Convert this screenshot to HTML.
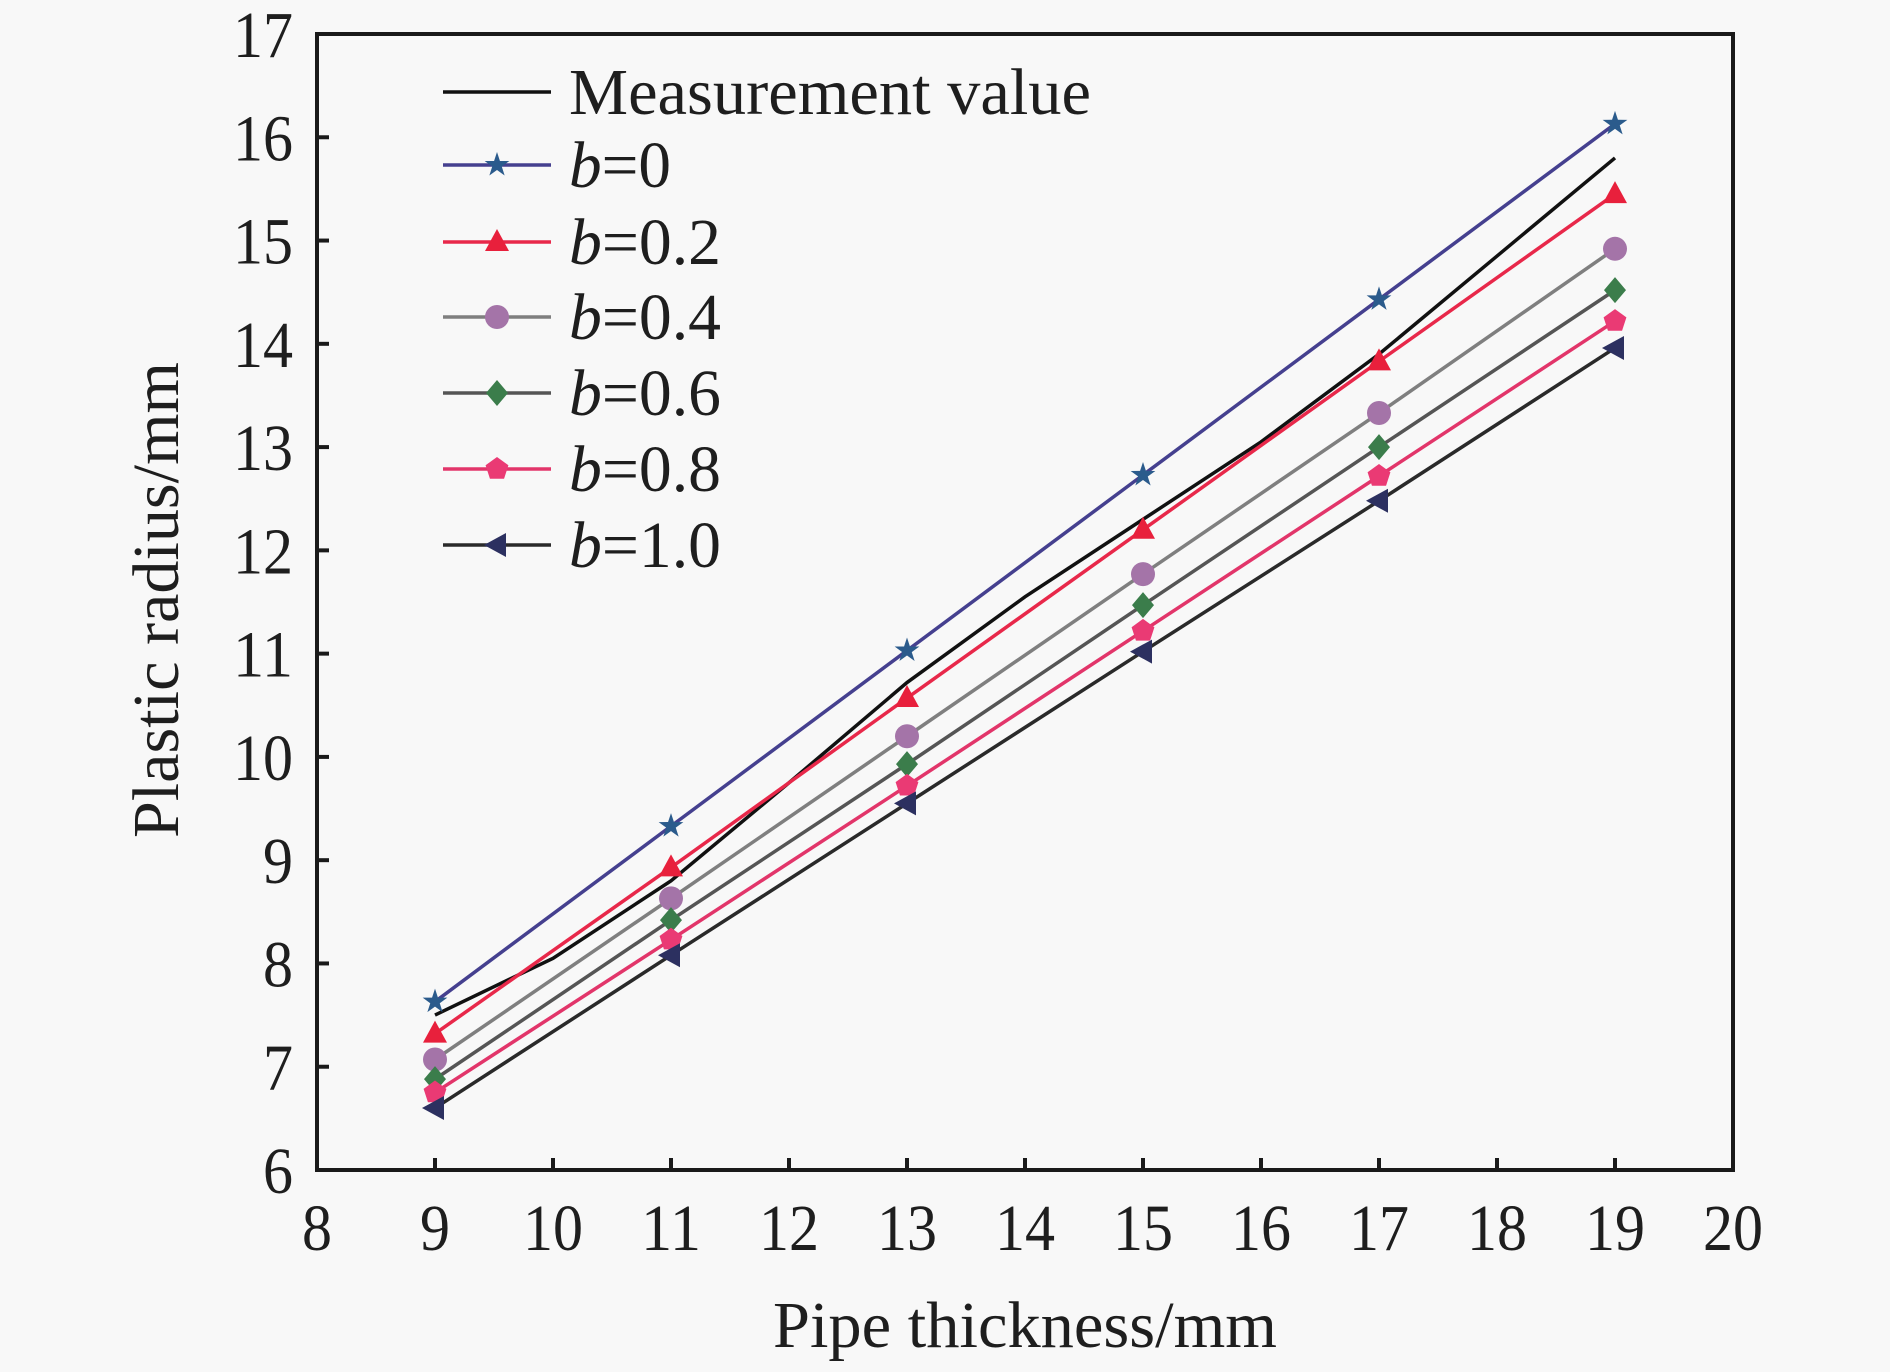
<!DOCTYPE html>
<html><head><meta charset="utf-8"><style>
html,body{margin:0;padding:0;background:#f8f8f8;}
</style></head><body>
<svg id="chart" width="1890" height="1367" viewBox="0 0 1890 1367" xmlns="http://www.w3.org/2000/svg" font-family="Liberation Serif, Times New Roman, serif">
<rect x="0" y="0" width="1890" height="1367" fill="#f8f8f8"/>
<g id="series"></g>
<g id="axes"></g>
<g id="legend"></g>
</svg>
<script>
const xTicks=[8,9,10,11,12,13,14,15,16,17,18,19,20];
const yTicks=[6,7,8,9,10,11,12,13,14,15,16,17];
const xCats=[9,11,13,15,17,19];
const b0=[7.63,9.33,11.03,12.73,14.43,16.13];
const b02=[7.32,8.93,10.57,12.2,13.83,15.45];
const b04=[7.07,8.63,10.2,11.77,13.33,14.92];
const b06=[6.88,8.42,9.93,11.47,13.0,14.52];
const b08=[6.75,8.23,9.72,11.22,12.72,14.22];
const b10=[6.6,8.08,9.55,11.02,12.48,13.96];
const measX=[9,10,11,12,13,14,15,16,17,18,19];
const measY=[7.5,8.05,8.8,9.75,10.72,11.55,12.3,13.05,13.9,14.85,15.8];
const seriesNames=["b=0","b=0.2","b=0.4","b=0.6","b=0.8","b=1.0"];

const L=317,R=1733,T=34,B=1170;
const sx=v=>L+(v-8)/(20-8)*(R-L);
const sy=v=>B-(v-6)/(17-6)*(B-T);
const NS="http://www.w3.org/2000/svg";
const FF="Liberation Serif, Times New Roman, serif";
function mk(tag,attrs,parent){const e=document.createElementNS(NS,tag);for(const k in attrs)e.setAttribute(k,attrs[k]);parent.appendChild(e);return e;}
function txt(attrs,parent){const e=mk('text',attrs,parent);e.setAttribute('font-family',FF);e.setAttribute('fill','#1e1e1e');return e;}
const gS=document.getElementById('series'),gA=document.getElementById('axes'),gL=document.getElementById('legend');

const styles=[
 {line:"#45408f",mark:"#2b5b8c",shape:"star"},
 {line:"#e8284a",mark:"#e8203c",shape:"tri"},
 {line:"#7f7f7f",mark:"#a474a8",shape:"circle"},
 {line:"#555555",mark:"#3b7d4b",shape:"diamond"},
 {line:"#e2356a",mark:"#ea3a74",shape:"pent"},
 {line:"#2a2a2a",mark:"#2c3060",shape:"ltri"}];
const data=[b0,b02,b04,b06,b08,b10];

function marker(shape,cx,cy,color,parent,name){
 let e;const r=12;
 if(shape==="circle"){e=mk('circle',{cx:cx,cy:cy,r:r},parent);}
 else{let pts=[];
  if(shape==="star"){for(let i=0;i<10;i++){const a=-Math.PI/2+i*Math.PI/5,rr=i%2?5:13;pts.push([cx+rr*Math.cos(a),cy+rr*Math.sin(a)]);}}
  else if(shape==="tri"){pts=[[cx,cy-13],[cx+12,cy+9],[cx-12,cy+9]];}
  else if(shape==="diamond"){pts=[[cx,cy-13],[cx+11,cy],[cx,cy+13],[cx-11,cy]];}
  else if(shape==="pent"){for(let i=0;i<5;i++){const a=-Math.PI/2+i*2*Math.PI/5;pts.push([cx+12*Math.cos(a),cy+12*Math.sin(a)]);}}
  else if(shape==="ltri"){pts=[[cx-13,cy],[cx+9,cy-12],[cx+9,cy+12]];}
  e=mk('polygon',{points:pts.map(p=>p.join(',')).join(' ')},parent);}
 e.setAttribute('fill',color);
 
 
 return e;}

const mp=mk('polyline',{points:measX.map((x,i)=>sx(x)+','+sy(measY[i])).join(' '),fill:'none',stroke:'#111','stroke-width':3.5},gS);



data.forEach((arr,si)=>{
 const st=styles[si];
 const g=mk('g',{},gS);
 
 
 const pl=mk('polyline',{points:xCats.map((x,i)=>sx(x)+','+sy(arr[i])).join(' '),fill:'none',stroke:st.line,'stroke-width':3.5},g);
 
 
 xCats.forEach((x,i)=>marker(st.shape,sx(x),sy(arr[i]),st.mark,g,'data-point'));
});

const fr=mk('rect',{x:L,y:T,width:R-L,height:B-T,fill:'none',stroke:'#1a1a1a','stroke-width':4},gA);


xTicks.forEach(v=>{
 const t=mk('line',{x1:sx(v),x2:sx(v),y1:B,y2:B-12,stroke:'#1a1a1a','stroke-width':4},gA);
 
 
 const s=String(v);
 const tx=txt({x:sx(v),y:B+80,'text-anchor':'middle','font-size':66,textLength:s.length*30,lengthAdjust:'spacingAndGlyphs'},gA);tx.textContent=s;
 
 
});
yTicks.forEach(v=>{
 const t=mk('line',{x1:L,x2:L+12,y1:sy(v),y2:sy(v),stroke:'#1a1a1a','stroke-width':4},gA);
 
 
 const s=String(v);
 const tx=txt({x:293,y:sy(v)+23,'text-anchor':'end','font-size':66,textLength:s.length*30,lengthAdjust:'spacingAndGlyphs'},gA);tx.textContent=s;
 
 
});
const xt=txt({x:1025,y:1347,'text-anchor':'middle','font-size':66,textLength:504,lengthAdjust:'spacingAndGlyphs'},gA);xt.textContent='Pipe thickness/mm';


const yt=txt({x:0,y:0,'text-anchor':'middle','font-size':66,textLength:476,lengthAdjust:'spacingAndGlyphs',transform:'translate(178,600) rotate(-90)'},gA);yt.textContent='Plastic radius/mm';



const rows=[92,165,242,317,393,469,545];
const lx1=443,lx2=551,ltx=569;
{const g=mk('g',{},gL);
 
 
 mk('line',{x1:lx1,x2:lx2,y1:rows[0],y2:rows[0],stroke:'#111','stroke-width':3.5},g);
 const t=txt({x:ltx,y:rows[0]+22,'font-size':66,textLength:522,lengthAdjust:'spacingAndGlyphs'},g);t.textContent='Measurement value';}
seriesNames.forEach((n,i)=>{
 const st=styles[i],y=rows[i+1];
 const g=mk('g',{},gL);
 
 
 mk('line',{x1:lx1,x2:lx2,y1:y,y2:y,stroke:st.line,'stroke-width':3.5},g);
 marker(st.shape,(lx1+lx2)/2,y,st.mark,g,'legend-marker');
 const t=txt({x:ltx,y:y+22,'font-size':66,textLength:n.length===3?102:152,lengthAdjust:'spacingAndGlyphs'},g);
 const it=mk('tspan',{'font-style':'italic'},t);it.textContent='b';
 const rest=mk('tspan',{},t);rest.textContent=n.slice(1);
});
</script>
</body></html>
